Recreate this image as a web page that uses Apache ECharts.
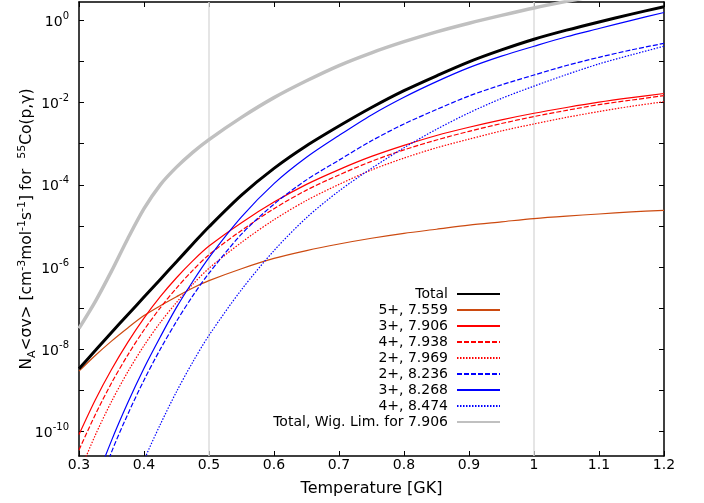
<!DOCTYPE html>
<html><head><meta charset="utf-8">
<script src="https://cdn.jsdelivr.net/npm/echarts@6/dist/echarts.min.js"></script>
<style>html,body{margin:0;padding:0;background:#fff}#c{width:704px;height:503px}</style>
</head><body><div id="c"></div>
<script>
// Temperature grid (GK)
const temperature = [0.3, 0.325, 0.35, 0.375, 0.4, 0.425, 0.45, 0.475, 0.5, 0.55, 0.6, 0.65, 0.7, 0.75, 0.8, 0.85, 0.9, 0.95, 1.0, 1.05, 1.1, 1.15, 1.2];
// log10 of N_A<sigma v>
const totalRate   = [-8.47, -8.03, -7.59, -7.16, -6.73, -6.30, -5.87, -5.44, -5.02, -4.25, -3.60, -3.05, -2.57, -2.12, -1.71, -1.35, -1.01, -0.72, -0.46, -0.24, -0.04, 0.15, 0.33];
const res5p7559   = [-8.53, -8.15, -7.80, -7.48, -7.18, -6.94, -6.72, -6.51, -6.33, -6.04, -5.79, -5.60, -5.44, -5.30, -5.18, -5.08, -4.98, -4.90, -4.82, -4.76, -4.71, -4.66, -4.62];
const res3p7906   = [-10.07, -9.23, -8.49, -7.83, -7.24, -6.72, -6.26, -5.85, -5.49, -4.92, -4.42, -3.99, -3.63, -3.31, -3.04, -2.80, -2.60, -2.42, -2.26, -2.12, -1.99, -1.88, -1.78];
const res4p7938   = [-10.45, -9.59, -8.82, -8.14, -7.53, -6.99, -6.51, -6.08, -5.70, -5.11, -4.58, -4.13, -3.76, -3.43, -3.15, -2.91, -2.70, -2.51, -2.34, -2.19, -2.05, -1.94, -1.83];
const res2p7969   = [-11.02, -10.09, -9.27, -8.55, -7.91, -7.35, -6.86, -6.42, -6.03, -5.40, -4.85, -4.38, -3.99, -3.64, -3.35, -3.10, -2.89, -2.69, -2.52, -2.36, -2.22, -2.09, -1.98];
const res2p8236   = [-12.75, -11.6, -10.5, -9.58, -8.75, -8.00, -7.32, -6.70, -6.15, -5.20, -4.47, -3.88, -3.40, -2.93, -2.52, -2.17, -1.84, -1.57, -1.33, -1.10, -0.90, -0.72, -0.56];
const res3p8268   = [-12.4, -11.25, -10.22, -9.30, -8.46, -7.70, -6.98, -6.35, -5.77, -4.78, -3.97, -3.33, -2.80, -2.30, -1.87, -1.49, -1.15, -0.87, -0.63, -0.40, -0.20, 0.00, 0.19];
const res4p8474   = [null, null, -12.9, -11.7, -10.70, -9.83, -9.03, -8.31, -7.66, -6.55, -5.60, -4.80, -4.15, -3.60, -3.10, -2.65, -2.25, -1.90, -1.60, -1.32, -1.06, -0.84, -0.63];
const wignerLimit = [-7.49, -6.84, -6.10, -5.31, -4.58, -4.00, -3.57, -3.21, -2.90, -2.36, -1.88, -1.47, -1.10, -0.79, -0.52, -0.28, -0.07, 0.12, 0.30, 0.46, 0.61, 0.74, 0.87];

const seriesNames = ['Total', '5+, 7.559', '3+, 7.906', '4+, 7.938', '2+, 7.969', '2+, 8.236', '3+, 8.268', '4+, 8.474', 'Total, Wig. Lim. for 7.906'];
const seriesValues = [totalRate, res5p7559, res3p7906, res4p7938, res2p7969, res2p8236, res3p8268, res4p8474, wignerLimit];
const gridLineTemps = [0.5, 1.0];
const yTickExponents = [0, -1, -2, -3, -4, -5, -6, -7, -8, -9, -10];
const yLabelExponents = [0, -2, -4, -6, -8, -10];

const styles = [
  {color: '#000000', width: 3, type: 'solid'},
  {color: '#cc4a10', width: 1.2, type: 'solid'},
  {color: '#ff0000', width: 1.2, type: 'solid'},
  {color: '#ff0000', width: 1.2, type: [5, 2]},
  {color: '#ff0000', width: 1.2, type: [1.5, 1.5]},
  {color: '#0000ff', width: 1.2, type: [5, 2]},
  {color: '#0000ff', width: 1.2, type: 'solid'},
  {color: '#0000ff', width: 1.2, type: [1.5, 1.5]},
  {color: '#c0c0c0', width: 3.5, type: 'solid'}
];

const FONT = 'DejaVu Sans';
const yMin = Math.pow(10, -10.594), yMax = Math.pow(10, 0.445);
const yTickValues = yTickExponents.map(e => Math.pow(10, e));
const yLabelValues = yLabelExponents.map(e => Math.pow(10, e));

const series = seriesNames.map((name, i) => {
  const s = {
    name, type: 'line', symbol: 'none', showSymbol: false, smooth: 0.3,
    clip: true, animation: false,
    data: temperature.map((t, k) => [t, seriesValues[i][k] == null ? null : Math.pow(10, seriesValues[i][k])]),
    lineStyle: styles[i], itemStyle: {color: styles[i].color},
    z: i === 0 ? 3 : 2
  };
  if (i === 0) {
    s.markLine = {
      silent: true, symbol: 'none', z: 1, animation: false,
      label: {show: false},
      lineStyle: {color: '#dcdcdc', width: 1.5, type: 'solid'},
      data: gridLineTemps.map(t => ({xAxis: t}))
    };
  }
  return s;
});

const chart = echarts.init(document.getElementById('c'), null, {renderer: 'canvas'});
const axisLineStyle = {color: '#000', width: 1.5};
const tickStyle = {show: true, inside: true, length: 5, lineStyle: {color: '#000', width: 1}};
chart.setOption({
  animation: false,
  backgroundColor: '#fff',
  textStyle: {fontFamily: FONT},
  grid: {left: 79, right: 40, top: 2, bottom: 47, containLabel: false, outerBoundsMode: 'none'},
  xAxis: [{
    type: 'value', min: 0.3, max: 1.2, interval: 0.1, position: 'bottom',
    name: 'Temperature [GK]', nameLocation: 'middle', nameGap: 25, nameMoveOverlap: false,
    nameTextStyle: {fontSize: 16, color: '#000', fontFamily: FONT},
    axisLine: {show: true, lineStyle: axisLineStyle},
    axisTick: tickStyle,
    axisLabel: {fontSize: 14, color: '#000', margin: 2, fontFamily: FONT},
    splitLine: {show: false}
  }, {
    type: 'value', min: 0.3, max: 1.2, interval: 0.1, position: 'top',
    axisLine: {show: true, lineStyle: axisLineStyle},
    axisTick: tickStyle,
    axisLabel: {show: false}, splitLine: {show: false}
  }],
  yAxis: [{
    type: 'log', logBase: 10, min: yMin, max: yMax, position: 'left',
    name: '{t|N}{sub|A}{t|<σv> [cm}{sup|-3}{t|mol}{sup|-1}{t|s}{sup|-1}{t|] for  }{sup|55}{t|Co(p,γ)}',
    nameLocation: 'middle', nameGap: 41, nameRotate: 90, nameMoveOverlap: false,
    nameTextStyle: {
      color: '#000', fontFamily: FONT,
      rich: {
        t: {fontSize: 15.5, lineHeight: 22, verticalAlign: 'middle', fontFamily: FONT, color: '#000'},
        sup: {fontSize: 11, lineHeight: 22, verticalAlign: 'top', fontFamily: FONT, color: '#000', padding: [1, 0, 0, 0]},
        sub: {fontSize: 11, lineHeight: 22, verticalAlign: 'bottom', fontFamily: FONT, color: '#000'}
      }
    },
    axisLine: {show: true, lineStyle: axisLineStyle},
    axisTick: Object.assign({customValues: yTickValues}, tickStyle),
    axisLabel: {
      customValues: yLabelValues,
      margin: 10, color: '#000', fontFamily: FONT,
      formatter: v => {
        const r = Math.round(Math.log10(v));
        return '{b|10}{s|' + (r === 0 ? '0' : String(r)) + '}';
      },
      rich: {
        b: {fontSize: 14, lineHeight: 18, verticalAlign: 'bottom', fontFamily: FONT, color: '#000'},
        s: {fontSize: 10, lineHeight: 18, verticalAlign: 'top', fontFamily: FONT, color: '#000'}
      }
    },
    splitLine: {show: false}, minorTick: {show: false}
  }, {
    type: 'log', logBase: 10, min: yMin, max: yMax, position: 'right',
    axisLine: {show: true, lineStyle: axisLineStyle},
    axisTick: Object.assign({customValues: yTickValues}, tickStyle),
    axisLabel: {show: false}, splitLine: {show: false}
  }],
  legend: {
    data: seriesNames, orient: 'vertical', right: 203, top: 287, align: 'right',
    itemWidth: 43, itemHeight: 14, itemGap: 2, padding: 0, selectedMode: false,
    itemStyle: {opacity: 0, borderWidth: 0},
    textStyle: {fontSize: 14, color: '#000', fontFamily: FONT, lineHeight: 14, padding: [0, 4, 0, 0]}
  },
  series
});
</script></body></html>
